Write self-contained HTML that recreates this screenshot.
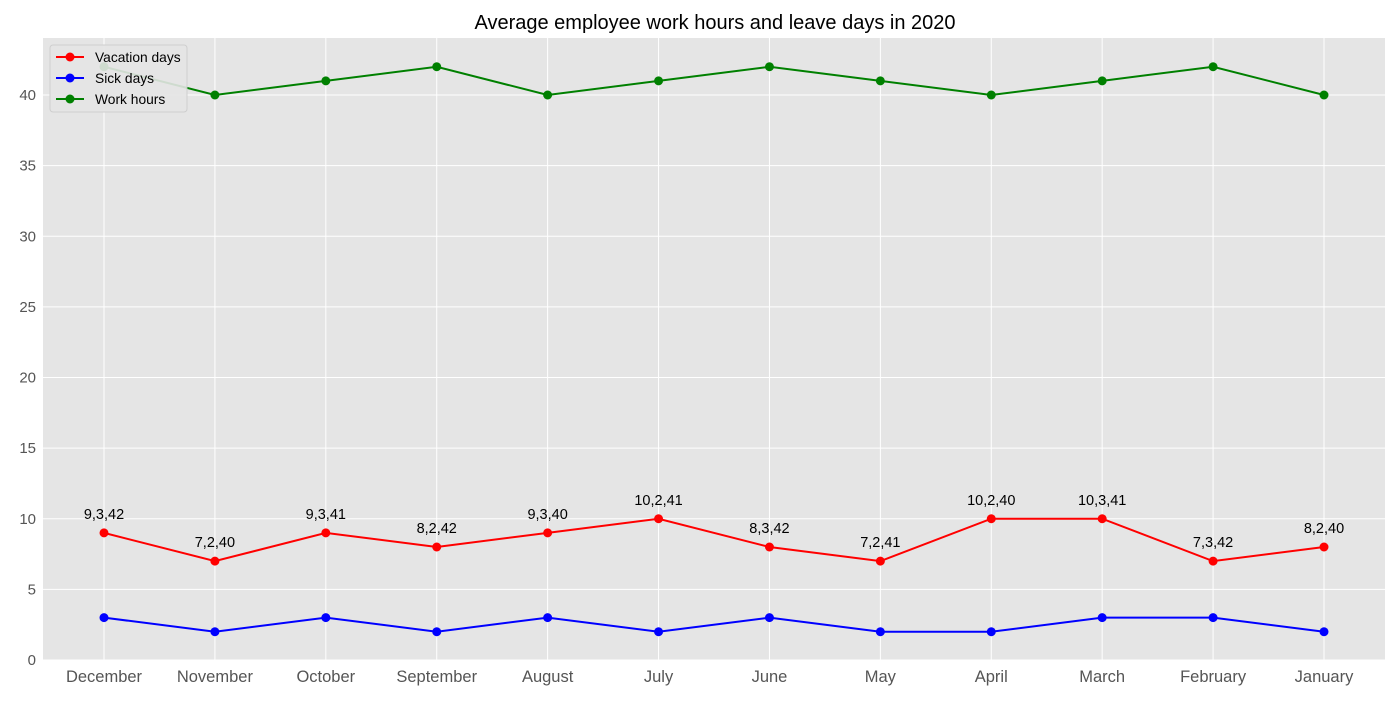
<!DOCTYPE html>
<html><head><meta charset="utf-8"><style>
body{margin:0;background:#fff;font-family:"Liberation Sans",Arial,sans-serif}
</style></head><body>
<svg id="chart" width="1400" height="700" xmlns="http://www.w3.org/2000/svg" font-family="Liberation Sans, Arial, sans-serif">
<text x="715" y="29" font-size="20" text-anchor="middle" fill="#000">Average employee work hours and leave days in 2020</text>
<rect x="43" y="38" width="1342" height="622" fill="#e5e5e5"/>
<g id="grid"></g><g id="axes"></g><g id="series"></g>
<g>
<rect x="50" y="45" width="137" height="67" rx="3" fill="#e5e5e5" stroke="#ccc" opacity="0.9"/>
<g><line x1="56" y1="57" x2="84" y2="57" stroke="red" stroke-width="2"/><circle cx="70" cy="57" r="4.5" fill="red"/><text x="95" y="62" font-size="13.8">Vacation days</text></g>
<g><line x1="56" y1="78" x2="84" y2="78" stroke="blue" stroke-width="2"/><circle cx="70" cy="78" r="4.5" fill="blue"/><text x="95" y="83" font-size="13.8">Sick days</text></g>
<g><line x1="56" y1="99" x2="84" y2="99" stroke="green" stroke-width="2"/><circle cx="70" cy="99" r="4.5" fill="green"/><text x="95" y="104" font-size="13.8">Work hours</text></g>
</g>
</svg>
<script>
const months=["December","November","October","September","August","July","June","May","April","March","February","January"];
const vacation=[9,7,9,8,9,10,8,7,10,10,7,8];
const sick=[3,2,3,2,3,2,3,2,2,3,3,2];
const work=[42,40,41,42,40,41,42,41,40,41,42,40];
const yTicks=[0,5,10,15,20,25,30,35,40];
const NS="http://www.w3.org/2000/svg";
const X=i=>104+i*(1324-104)/11;
const Y=v=>660-v*565/40;
function mk(tag,attrs,parent,text){const e=document.createElementNS(NS,tag);for(const k in attrs)e.setAttribute(k,attrs[k]);if(text!==undefined)e.textContent=text;document.getElementById(parent).appendChild(e);return e;}
yTicks.forEach(t=>{
 const l=mk('line',{x1:43,x2:1385,y1:Y(t),y2:Y(t),stroke:'#fff','stroke-width':1},'grid');
 
 
 const tx=mk('text',{x:36,y:Y(t)+5,'font-size':15,'text-anchor':'end',fill:'#555'},'axes',t);
 
 
});
months.forEach((m,i)=>{
 const l=mk('line',{x1:X(i),x2:X(i),y1:38,y2:660,stroke:'#fff','stroke-width':1},'grid');
 
 
 const tx=mk('text',{x:X(i),y:682,'font-size':16.5,'text-anchor':'middle',fill:'#555'},'axes',m);
 
 
});
[[vacation,'red','vacation'],[sick,'blue','sick'],[work,'green','work']].forEach(([d,c,n])=>{
 const p=mk('polyline',{points:d.map((v,i)=>X(i)+','+Y(v)).join(' '),fill:'none',stroke:c,'stroke-width':2},'series');
 
 
 d.forEach((v,i)=>{
  const ci=mk('circle',{cx:X(i),cy:Y(v),r:4.5,fill:c},'series');
  
  
 });
});
vacation.forEach((v,i)=>{
 const t=mk('text',{x:X(i),y:Y(v)-14,'font-size':14.5,'text-anchor':'middle',fill:'#000'},'series',v+','+sick[i]+','+work[i]);
 
 
});
</script>
</body></html>
